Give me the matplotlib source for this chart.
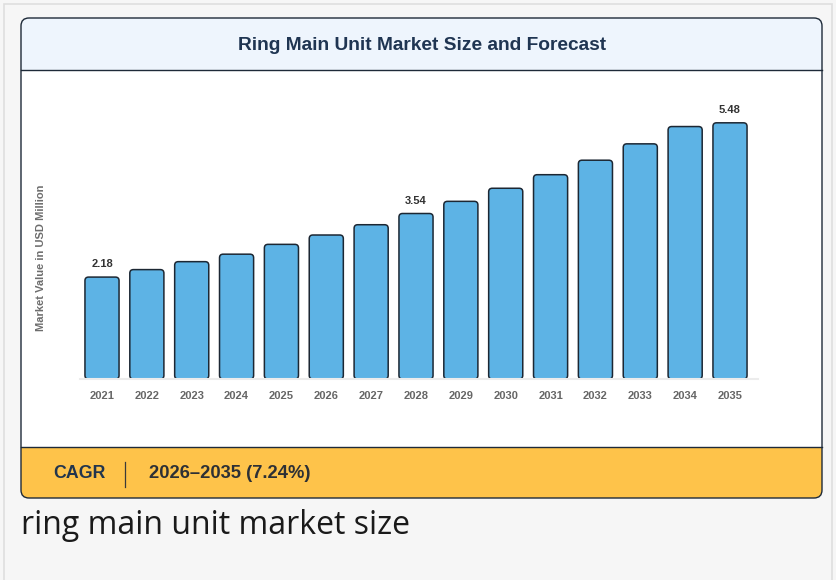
import matplotlib
matplotlib.use("Agg")
import matplotlib.pyplot as plt
from matplotlib.patches import FancyBboxPatch, Rectangle

# data
years = ["2021", "2022", "2023", "2024", "2025", "2026", "2027", "2028",
         "2029", "2030", "2031", "2032", "2033", "2034", "2035"]
values = [2.18, 2.34, 2.51, 2.67, 2.88, 3.08, 3.30, 3.54,
          3.80, 4.08, 4.37, 4.68, 5.03, 5.40, 5.48]
labelled = ["2021", "2028", "2035"]

title = "Ring Main Unit Market Size and Forecast"
y_label = "Market Value in USD Million"
cagr_period = "2026\u20132035 (7.24%)"
caption = "ring main unit market size"

W, H = 836, 580
fig = plt.figure(figsize=(W / 100, H / 100), dpi=100)
fig.patch.set_facecolor("#f6f6f6")

# background / card drawn in pixel coordinates
bg = fig.add_axes([0, 0, 1, 1])
bg.set_xlim(0, W)
bg.set_ylim(H, 0)
bg.axis("off")

bg.add_patch(Rectangle((4, 4), 828, 620, facecolor="#f6f6f6",
                       edgecolor="#dedede", lw=1.2))

card = FancyBboxPatch((21, 18), 801, 480, boxstyle="round,pad=0,rounding_size=8",
                      facecolor="#eef5fd", edgecolor="none")
bg.add_patch(card)
body = Rectangle((21, 70), 801, 377, facecolor="white", edgecolor="none")
bg.add_patch(body)
body.set_clip_path(card)
foot = Rectangle((21, 447), 801, 60, facecolor="#fec34a", edgecolor="none")
bg.add_patch(foot)
foot.set_clip_path(card)
bg.plot([21, 822], [70, 70], color="#1e2a38", lw=1.0)
bg.plot([21, 822], [447, 447], color="#1e2a38", lw=1.0)
bg.add_patch(FancyBboxPatch((21, 18), 801, 480, boxstyle="round,pad=0,rounding_size=8",
                            facecolor="none", edgecolor="#1e2a38", lw=1.0))

bg.text(422, 45, title, ha="center", va="center", fontsize=13.8,
        fontweight="bold", color="#1f3552", family="Liberation Sans")

bg.text(53, 473, "CAGR", ha="left", va="center", fontsize=12.8,
        fontweight="bold", color="#22354d", family="Liberation Sans")
bg.plot([125, 125], [462, 487], color="#3a3a3a", lw=0.9)
bg.text(149, 473, cagr_period, ha="left", va="center", fontsize=13.2,
        fontweight="bold", color="#2d3035", family="Liberation Sans")

bg.text(21, 526, caption, ha="left", va="center", fontsize=23,
        color="#1a1a1a", family="Open Sans")

bg.text(41, 258, y_label, ha="center", va="center", rotation=90,
        fontsize=8, fontweight="bold", color="#6d6d6d", family="Liberation Sans")

# bar chart axes: baseline at pixel y=379, spanning x 80..758
ax_l, ax_r, ax_b, ax_t = 80, 758, 379, 100
ax = fig.add_axes([ax_l / W, 1 - ax_b / H, (ax_r - ax_l) / W, (ax_b - ax_t) / H])
ax.set_facecolor("none")
step = (730 - 102) / (len(years) - 1)
ax.set_xlim((ax_l - 102) / step, (ax_r - 102) / step)
ymax = (ax_b - ax_t) / 46.75
ax.set_ylim(0, ymax)

xs = list(range(len(years)))
bw = 0.76
bars = ax.bar(xs, values, width=bw, color="none", edgecolor="none")
# rounded versions of the bars
asp = (ymax / (ax_b - ax_t)) / ((ax.get_xlim()[1] - ax.get_xlim()[0]) / (ax_r - ax_l))
for b in bars:
    ax.add_patch(FancyBboxPatch((b.get_x(), 0), b.get_width(), b.get_height(),
                                boxstyle="round,pad=0,rounding_size=0.08",
                                mutation_aspect=asp, facecolor="#5db3e5",
                                edgecolor="#1c2733", lw=1.1, clip_on=False))

for x, y, v in zip(xs, years, values):
    if y in labelled:
        ax.annotate(f"{v:.2f}", (x, v), xytext=(0, 5.5), textcoords="offset points",
                    ha="center", va="bottom", fontsize=8, fontweight="bold",
                    color="#333333", family="Liberation Sans")

ax.set_xticks(xs)
ax.set_xticklabels(years, fontsize=8, fontweight="bold", color="#666666",
                   family="Liberation Sans")
ax.tick_params(axis="x", length=0, pad=8.5)
ax.set_yticks([])
for s in ["top", "right", "left"]:
    ax.spines[s].set_visible(False)
ax.spines["bottom"].set_color("#ececec")
ax.spines["bottom"].set_linewidth(1.5)
ax.set_zorder(2)

fig.savefig("out.png", dpi=100, facecolor=fig.get_facecolor())
